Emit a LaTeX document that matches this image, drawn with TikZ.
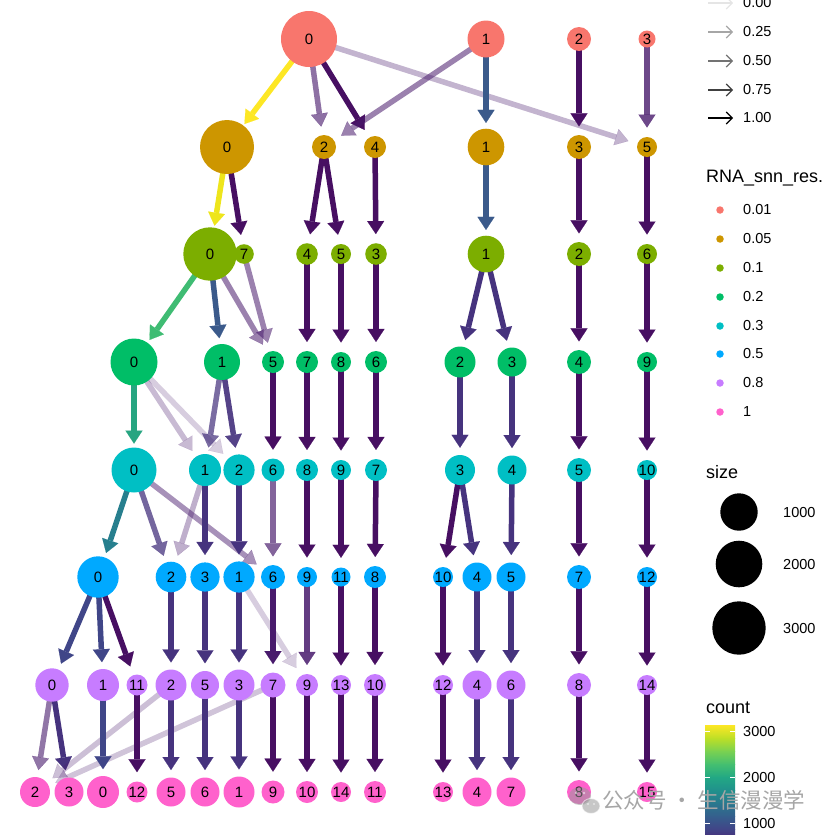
\documentclass[tikz,border=0pt]{standalone}
\usepackage{fontspec}
\setmainfont{Liberation Sans}
\newfontfamily\cjkfont{Noto Sans CJK SC}
\usetikzlibrary{arrows.meta,calc}
\pgfdeclarelayer{bg}
\pgfsetlayers{bg,main}
% node colours (resolution)
\definecolor{cA}{HTML}{F8766D}
\definecolor{cB}{HTML}{CD9600}
\definecolor{cC}{HTML}{7CAE00}
\definecolor{cD}{HTML}{00BE67}
\definecolor{cE}{HTML}{00BFC4}
\definecolor{cF}{HTML}{00A9FF}
\definecolor{cG}{HTML}{C77CFF}
\definecolor{cH}{HTML}{FF61CC}
% edge colours (count, viridis)
\definecolor{vY}{HTML}{FDE725}
\definecolor{vYb}{HTML}{EEE51C}
\definecolor{vG}{HTML}{3FBC73}
\definecolor{vT}{HTML}{27A581}
\definecolor{vTb}{HTML}{277F8E}
\definecolor{vB}{HTML}{3B5A8B}
\definecolor{vI}{HTML}{404688}
\definecolor{vM}{HTML}{46337E}
\definecolor{vP}{HTML}{481A6C}
\definecolor{vD}{HTML}{470F62}
% viridis stops
\definecolor{vir1}{HTML}{482475}
\definecolor{vir2}{HTML}{414487}
\definecolor{vir3}{HTML}{355F8D}
\definecolor{vir4}{HTML}{2A788E}
\definecolor{vir5}{HTML}{21918C}
\definecolor{vir6}{HTML}{22A884}
\definecolor{vir7}{HTML}{44BF70}
\definecolor{vir8}{HTML}{7AD151}
\definecolor{vir9}{HTML}{BDDF26}
\definecolor{vir10}{HTML}{FDE725}
\tikzset{
  nd/.style={circle, inner sep=0pt, outer sep=0pt, draw=none, text=black,
    font=\fontsize{15}{15}\selectfont},
  edge/.style={line width=5.5pt, -{Triangle[length=13pt,width=17pt,line width=0.1pt]}},
  legarrow/.style={line width=1.1pt, -{Straight Barb[length=6pt,width=12pt,line width=1.1pt]}},
  legtext/.style={anchor=west, inner sep=0pt, font=\fontsize{14.5}{15}\selectfont},
  legtitle/.style={anchor=west, inner sep=0pt, font=\fontsize{18}{20}\selectfont},
  legdot/.style={circle, inner sep=0pt, minimum size=7.5pt, draw=none}
}
\newcommand\nd[6]{%
  \node[nd, fill=#5, minimum size={2*#4pt}] (#1) at (#2,#3) {\makebox[0pt]{#6}};%
  \expandafter\xdef\csname rr#1\endcsname{#4}}
\newcommand\ed[4]{%
  \pgfmathsetmacro\edcapdist{14+0.55*\csname rr#2\endcsname}%
  \draw[edge,#3,opacity=#4] (#1.center) -- ($(#2.center)!\edcapdist pt!(#1.center)$);}
\begin{document}
\begin{tikzpicture}[x=1pt,y=-1pt]
\useasboundingbox (0,0) rectangle (834,835);
% ---------- nodes ----------
\nd{a0}{309}{39}{28}{cA}{0}
\nd{a1}{486}{39}{18.5}{cA}{1}
\nd{a2}{579}{39}{12}{cA}{2}
\nd{a3}{647}{39}{8.5}{cA}{3}
\nd{b0}{227}{147}{27}{cB}{0}
\nd{b2}{324}{147}{12}{cB}{2}
\nd{b4}{375}{147}{11}{cB}{4}
\nd{b1}{486}{147}{18.3}{cB}{1}
\nd{b3}{579}{147}{12}{cB}{3}
\nd{b5}{647}{147}{10}{cB}{5}
\nd{c0}{210}{254}{26.7}{cC}{0}
\nd{c7}{244}{254}{9.8}{cC}{7}
\nd{c4}{307}{254}{10.8}{cC}{4}
\nd{c5}{341}{254}{10}{cC}{5}
\nd{c3}{376}{254}{10.8}{cC}{3}
\nd{c1}{486}{254}{18.3}{cC}{1}
\nd{c2}{579}{254}{12}{cC}{2}
\nd{c6}{647}{254}{10}{cC}{6}
\nd{d0}{134}{362}{23.5}{cD}{0}
\nd{d1}{222}{362}{18}{cD}{1}
\nd{d5}{273}{362}{11}{cD}{5}
\nd{d7}{307}{362}{11}{cD}{7}
\nd{d8}{341}{362}{10}{cD}{8}
\nd{d6}{376}{362}{11}{cD}{6}
\nd{d2}{460}{362}{15.5}{cD}{2}
\nd{d3}{512}{362}{14.5}{cD}{3}
\nd{d4}{579}{362}{12}{cD}{4}
\nd{d9}{647}{362}{10}{cD}{9}
\nd{e0}{134}{470}{22.5}{cE}{0}
\nd{e1}{205}{470}{16}{cE}{1}
\nd{e2}{239}{470}{15.6}{cE}{2}
\nd{e6}{273}{470}{11.5}{cE}{6}
\nd{e8}{307}{470}{11}{cE}{8}
\nd{e9}{341}{470}{10}{cE}{9}
\nd{e7}{376}{470}{11}{cE}{7}
\nd{e3}{460}{470}{15}{cE}{3}
\nd{e4}{512}{470}{14.5}{cE}{4}
\nd{e5}{579}{470}{12}{cE}{5}
\nd{e10}{647}{470}{10}{cE}{10}
\nd{f0}{98}{577}{20.7}{cF}{0}
\nd{f2}{171}{577}{15.3}{cF}{2}
\nd{f3}{205}{577}{14.6}{cF}{3}
\nd{f1}{239}{577}{15.6}{cF}{1}
\nd{f6}{273}{577}{12}{cF}{6}
\nd{f9}{307}{577}{10}{cF}{9}
\nd{f11}{341}{577}{9.5}{cF}{11}
\nd{f8}{375}{577}{11}{cF}{8}
\nd{f10}{443}{577}{10}{cF}{10}
\nd{f4}{477}{577}{14.5}{cF}{4}
\nd{f5}{511}{577}{14.5}{cF}{5}
\nd{f7}{579}{577}{12}{cF}{7}
\nd{f12}{647}{577}{10}{cF}{12}
\nd{g0}{52}{685}{16.7}{cG}{0}
\nd{g1}{103}{685}{16}{cG}{1}
\nd{g11}{137}{685}{10.5}{cG}{11}
\nd{g2}{171}{685}{15.5}{cG}{2}
\nd{g5}{205}{685}{14}{cG}{5}
\nd{g3}{239}{685}{15.5}{cG}{3}
\nd{g7}{273}{685}{12.5}{cG}{7}
\nd{g9}{307}{685}{11}{cG}{9}
\nd{g13}{341}{685}{10}{cG}{13}
\nd{g10}{375}{685}{11}{cG}{10}
\nd{g12}{443}{685}{10}{cG}{12}
\nd{g4}{477}{685}{14.5}{cG}{4}
\nd{g6}{511}{685}{14.5}{cG}{6}
\nd{g8}{579}{685}{12}{cG}{8}
\nd{g14}{647}{685}{10}{cG}{14}
\nd{h2}{35}{792}{15}{cH}{2}
\nd{h3}{69}{792}{14.5}{cH}{3}
\nd{h0}{103}{792}{16}{cH}{0}
\nd{h12}{137}{792}{10.5}{cH}{12}
\nd{h5}{171}{792}{14.5}{cH}{5}
\nd{h6}{205}{792}{14.5}{cH}{6}
\nd{h1}{239}{792}{15.5}{cH}{1}
\nd{h9}{273}{792}{11.5}{cH}{9}
\nd{h10}{307}{792}{11}{cH}{10}
\nd{h14}{341}{792}{10}{cH}{14}
\nd{h11}{375}{792}{11}{cH}{11}
\nd{h13}{443}{792}{10}{cH}{13}
\nd{h4}{477}{792}{14.5}{cH}{4}
\nd{h7}{511}{792}{14.5}{cH}{7}
\nd{h8}{579}{792}{12}{cH}{8}
\nd{h15}{647}{792}{10}{cH}{15}
% ---------- edges ----------
\begin{pgfonlayer}{bg}
\ed{a0}{b0}{vY}{1}
\ed{a0}{b2}{vP}{0.62}
\ed{a0}{b4}{vD}{1}
\ed{a0}{b5}{vP}{0.33}
\ed{a1}{b1}{vB}{1}
\ed{a1}{b2}{vP}{0.55}
\ed{a2}{b3}{vD}{1}
\ed{a3}{b5}{vP}{0.8}
\ed{b0}{c0}{vYb}{1}
\ed{b0}{c7}{vD}{1}
\ed{b2}{c4}{vD}{1}
\ed{b2}{c5}{vD}{1}
\ed{b4}{c3}{vD}{1}
\ed{b1}{c1}{vB}{1}
\ed{b3}{c2}{vD}{1}
\ed{b5}{c6}{vD}{1}
\ed{c0}{d0}{vG}{1}
\ed{c0}{d1}{vB}{1}
\ed{c0}{d5}{vP}{0.55}
\ed{c7}{d5}{vP}{0.55}
\ed{c4}{d7}{vD}{1}
\ed{c5}{d8}{vD}{1}
\ed{c3}{d6}{vD}{1}
\ed{c1}{d2}{vM}{1}
\ed{c1}{d3}{vM}{1}
\ed{c2}{d4}{vD}{1}
\ed{c6}{d9}{vD}{1}
\ed{d0}{e0}{vT}{1}
\ed{d0}{e1}{vP}{0.3}
\ed{d0}{e2}{vP}{0.22}
\ed{d1}{e1}{vM}{0.72}
\ed{d1}{e2}{vM}{0.92}
\ed{d5}{e6}{vD}{1}
\ed{d7}{e8}{vD}{1}
\ed{d8}{e9}{vD}{1}
\ed{d6}{e7}{vD}{1}
\ed{d2}{e3}{vM}{1}
\ed{d3}{e4}{vM}{1}
\ed{d4}{e5}{vD}{1}
\ed{d9}{e10}{vD}{1}
\ed{e0}{f0}{vTb}{1}
\ed{e0}{f2}{vM}{0.75}
\ed{e0}{f6}{vP}{0.48}
\ed{e1}{f2}{vP}{0.35}
\ed{e1}{f3}{vM}{1}
\ed{e2}{f1}{vM}{1}
\ed{e6}{f6}{vP}{0.68}
\ed{e8}{f9}{vD}{1}
\ed{e9}{f11}{vD}{1}
\ed{e7}{f8}{vD}{1}
\ed{e3}{f10}{vD}{1}
\ed{e3}{f4}{vM}{1}
\ed{e4}{f5}{vM}{1}
\ed{e5}{f7}{vD}{1}
\ed{e10}{f12}{vD}{1}
\ed{f0}{g0}{vI}{1}
\ed{f0}{g1}{vI}{1}
\ed{f0}{g11}{vD}{1}
\ed{f2}{g2}{vM}{1}
\ed{f3}{g5}{vM}{1}
\ed{f1}{g3}{vM}{1}
\ed{f1}{g9}{vP}{0.22}
\ed{f6}{g7}{vP}{1}
\ed{f9}{g9}{vP}{0.85}
\ed{f11}{g13}{vD}{1}
\ed{f8}{g10}{vD}{1}
\ed{f10}{g12}{vD}{1}
\ed{f4}{g4}{vM}{1}
\ed{f5}{g6}{vM}{1}
\ed{f7}{g8}{vD}{1}
\ed{f12}{g14}{vD}{1}
\ed{g0}{h2}{vP}{0.6}
\ed{g0}{h3}{vM}{1}
\ed{g2}{h2}{vP}{0.28}
\ed{g7}{h2}{vP}{0.26}
\ed{g1}{h0}{vI}{1}
\ed{g11}{h12}{vD}{1}
\ed{g2}{h5}{vM}{1}
\ed{g5}{h6}{vM}{1}
\ed{g3}{h1}{vM}{1}
\ed{g7}{h9}{vD}{1}
\ed{g9}{h10}{vD}{1}
\ed{g13}{h14}{vD}{1}
\ed{g10}{h11}{vD}{1}
\ed{g12}{h13}{vD}{1}
\ed{g4}{h4}{vM}{1}
\ed{g6}{h7}{vM}{1}
\ed{g8}{h8}{vD}{1}
\ed{g14}{h15}{vD}{1}
\end{pgfonlayer}
% ---------- legend: in_prop ----------
\foreach \i/\yy/\cc/\lab in {0/3/black!10/0.00, 1/32/black!35/0.25, 2/61/black!55/0.50, 3/90/black!75/0.75, 4/118/black/1.00}{
  \coordinate (lp\i s) at (708,\yy);
  \coordinate (lp\i e) at (733,\yy);
  \draw[legarrow,\cc] (lp\i s) -- (lp\i e);
  \node[legtext] (lpt\i) at (743,\yy) {\lab};
}
% ---------- legend: resolution ----------
\node[legtitle] (rt) at (706,178) {RNA\_snn\_res.};
\foreach \i/\yy/\cc/\lab in {1/210/cA/0.01, 2/239/cB/0.05, 3/268/cC/0.1, 4/297/cD/0.2, 5/326/cE/0.3, 6/354/cF/0.5, 7/383/cG/0.8, 8/412/cH/1}{
  \node[legdot, fill=\cc] (rd\i) at (720,\yy) {};
  \node[legtext] (rl\i) at (743,\yy) {\lab};
}
% ---------- legend: size ----------
\node[legtitle] (st) at (706,472) {size};
\node[circle, fill=black, inner sep=0pt, minimum size=37.4pt] (s1) at (739,512) {};
\node[circle, fill=black, inner sep=0pt, minimum size=46.6pt] (s2) at (739,564) {};
\node[circle, fill=black, inner sep=0pt, minimum size=53.4pt] (s3) at (739,628) {};
\node[legtext] (sl1) at (783,513) {1000};
\node[legtext] (sl2) at (783,565) {2000};
\node[legtext] (sl3) at (783,629) {3000};
% ---------- legend: count ----------
\node[legtitle] (ct) at (706,708) {count};
\foreach \ya/\yb/\ca/\cb in {725/738.3/vir10/vir9, 738/751.4/vir9/vir8, 751.1/764.4/vir8/vir7, 764.1/777.4/vir7/vir6, 777.1/790.4/vir6/vir5, 790.1/803.4/vir5/vir4, 803.1/816.4/vir4/vir3, 816.1/829.5/vir3/vir2, 829.2/842.2/vir2/vir1}{
  \shade[top color=\ca, bottom color=\cb] (705,\ya) rectangle (735,\yb);
}
\foreach \yy in {731,777,823}{
  \draw[white, line width=0.8pt] (705,\yy) -- (710,\yy) (730,\yy) -- (735,\yy);
}
\node[legtext] (cl3) at (743,731) {3000};
\node[legtext] (cl2) at (743,777) {2000};
\node[legtext] (cl1) at (743,823) {1000};
% ---------- watermark ----------
\begin{scope}[opacity=0.55]
\fill[gray!80] (580,796) ellipse [x radius=11pt, y radius=9pt];
\fill[gray!80, draw=white, line width=1pt] (591,806) ellipse [x radius=9pt, y radius=7.5pt];
\fill[white] (576,793) circle (1.3pt) (584,793) circle (1.3pt) (588,804) circle (1.1pt) (594,804) circle (1.1pt);
\end{scope}
\node[anchor=west, inner sep=0pt, text=black!35, font=\cjkfont\fontsize{21.5}{21.5}\selectfont] (wm) at (602,800) {公众号 · 生信漫漫学};
\end{tikzpicture}
\end{document}
